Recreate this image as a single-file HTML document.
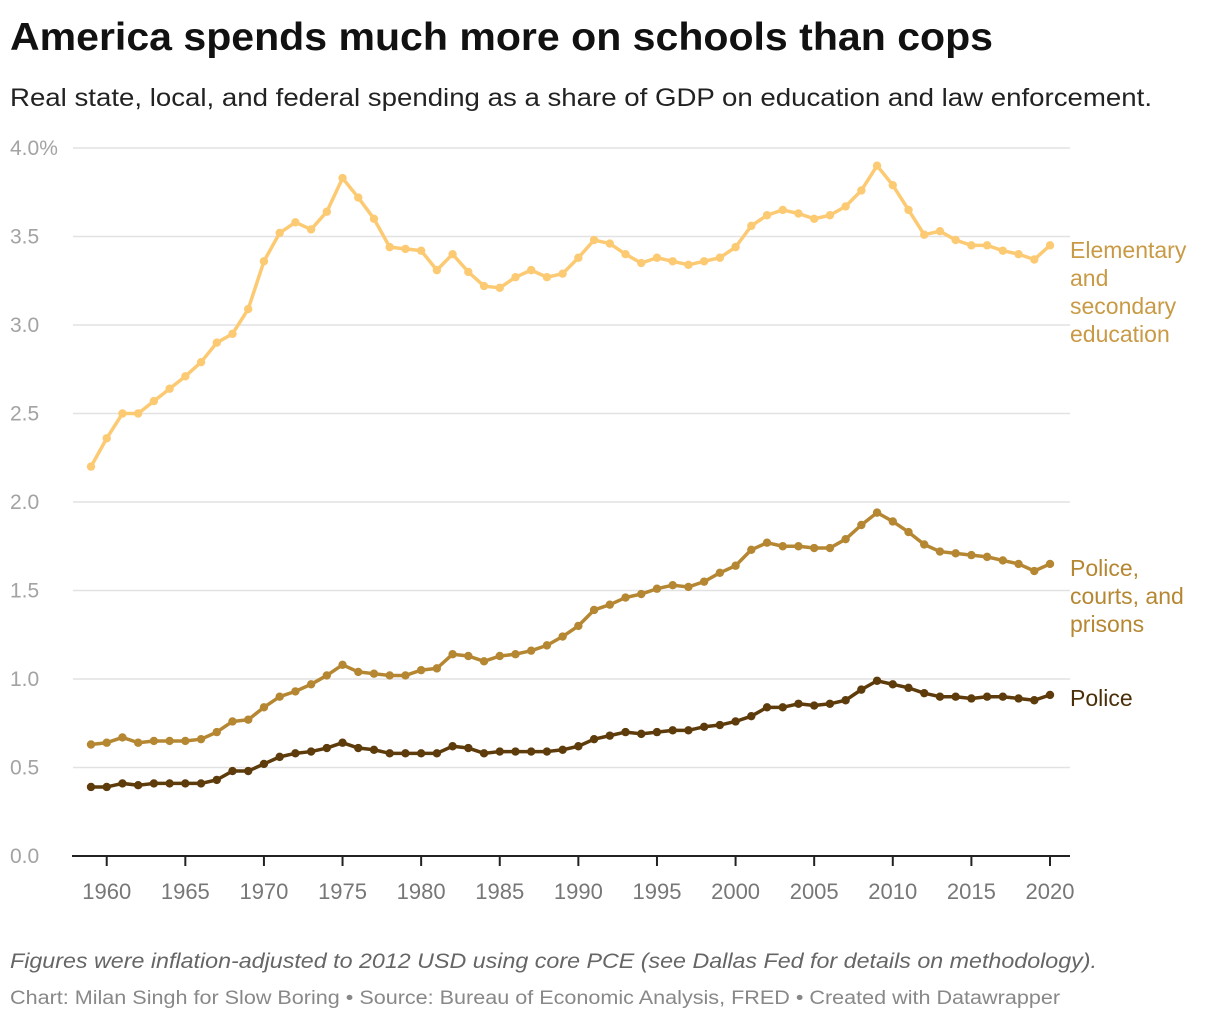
<!DOCTYPE html>
<html><head><meta charset="utf-8"><style>
body{margin:0;background:#fff;font-family:"Liberation Sans",sans-serif;}
</style></head><body>
<svg width="1220" height="1020" xmlns="http://www.w3.org/2000/svg" style="font-family:'Liberation Sans',sans-serif">
<text x="10" y="50" font-size="39" font-weight="bold" fill="#111" textLength="983" lengthAdjust="spacingAndGlyphs">America spends much more on schools than cops</text>
<text x="10" y="106" font-size="25" fill="#222" textLength="1142" lengthAdjust="spacingAndGlyphs">Real state, local, and federal spending as a share of GDP on education and law enforcement.</text>
<g id="grid"></g><g id="axes"></g><g id="lines"></g>
<text x="10" y="968" font-size="21" font-style="italic" fill="#666" textLength="1087" lengthAdjust="spacingAndGlyphs">Figures were inflation-adjusted to 2012 USD using core PCE (see Dallas Fed for details on methodology).</text>
<text x="10" y="1004" font-size="19" fill="#888" textLength="1050" lengthAdjust="spacingAndGlyphs">Chart: Milan Singh for Slow Boring • Source: Bureau of Economic Analysis, FRED • Created with Datawrapper</text>
</svg>
<script>
const years=[];for(let y=1959;y<=2020;y++)years.push(y);
const education=[2.20,2.36,2.50,2.50,2.57,2.64,2.71,2.79,2.90,2.95,3.09,3.36,3.52,3.58,3.54,3.64,3.83,3.72,3.60,3.44,3.43,3.42,3.31,3.40,3.30,3.22,3.21,3.27,3.31,3.27,3.29,3.38,3.48,3.46,3.40,3.35,3.38,3.36,3.34,3.36,3.38,3.44,3.56,3.62,3.65,3.63,3.60,3.62,3.67,3.76,3.90,3.79,3.65,3.51,3.53,3.48,3.45,3.45,3.42,3.40,3.37,3.45];
const courts=[0.63,0.64,0.67,0.64,0.65,0.65,0.65,0.66,0.70,0.76,0.77,0.84,0.90,0.93,0.97,1.02,1.08,1.04,1.03,1.02,1.02,1.05,1.06,1.14,1.13,1.10,1.13,1.14,1.16,1.19,1.24,1.30,1.39,1.42,1.46,1.48,1.51,1.53,1.52,1.55,1.60,1.64,1.73,1.77,1.75,1.75,1.74,1.74,1.79,1.87,1.94,1.89,1.83,1.76,1.72,1.71,1.70,1.69,1.67,1.65,1.61,1.65];
const police=[0.39,0.39,0.41,0.40,0.41,0.41,0.41,0.41,0.43,0.48,0.48,0.52,0.56,0.58,0.59,0.61,0.64,0.61,0.60,0.58,0.58,0.58,0.58,0.62,0.61,0.58,0.59,0.59,0.59,0.59,0.60,0.62,0.66,0.68,0.70,0.69,0.70,0.71,0.71,0.73,0.74,0.76,0.79,0.84,0.84,0.86,0.85,0.86,0.88,0.94,0.99,0.97,0.95,0.92,0.90,0.90,0.89,0.90,0.90,0.89,0.88,0.91];
const yTicks=[0,0.5,1.0,1.5,2.0,2.5,3.0,3.5,4.0];
const yTickLabels=["0.0","0.5","1.0","1.5","2.0","2.5","3.0","3.5","4.0%"];
const xTicks=[1960,1965,1970,1975,1980,1985,1990,1995,2000,2005,2010,2015,2020];
const NS="http://www.w3.org/2000/svg";
const X=y=>91+(y-1959)*(1050-91)/61;
const Y=v=>856-v*177;
function mk(t,a,p){const e=document.createElementNS(NS,t);for(const k in a)e.setAttribute(k,a[k]);p.appendChild(e);return e;}
const grid=document.getElementById('grid'),axes=document.getElementById('axes'),lines=document.getElementById('lines');
yTicks.forEach((v,i)=>{
 if(v>0){const l=mk('line',{x1:73,x2:1070,y1:Y(v),y2:Y(v),stroke:'#e2e2e2','stroke-width':1.5},grid);
 
 }
 const t=mk('text',{x:10,y:Y(v)+7,'font-size':21,fill:'#a3a3a3'},axes);t.textContent=yTickLabels[i];
 
 
});
const ax=mk('line',{x1:72,x2:1070,y1:856,y2:856,stroke:'#222','stroke-width':2},axes);


xTicks.forEach(y=>{
 const tk=mk('line',{x1:X(y),x2:X(y),y1:856,y2:866,stroke:'#222','stroke-width':2},axes);
 
 
 const t=mk('text',{x:X(y),y:899,'font-size':22,fill:'#777','text-anchor':'middle'},axes);t.textContent=y;
 
 
});
function series(vals,color,name,label,labelColor,ly){
 const g=mk('g',{},lines);
 
 
 mk('polyline',{points:vals.map((v,i)=>X(years[i])+','+Y(v)).join(' '),fill:'none',stroke:color,'stroke-width':3.5,'stroke-linejoin':'round'},g);
 vals.forEach((v,i)=>{const c=mk('circle',{cx:X(years[i]),cy:Y(v),r:4.2,fill:color},g);
  
  });
 label.forEach((s,i)=>{const t=mk('text',{x:1070,y:ly+i*28,'font-size':23,fill:labelColor},lines);t.textContent=s;
  
  });
}
series(education,'#fdca74','education-line',['Elementary','and','secondary','education'],'#c99a45',258);
series(courts,'#b68732','police-courts-prisons-line',['Police,','courts, and','prisons'],'#b68732',576);
series(police,'#5d3b0b','police-line',['Police'],'#4a2f08',706);
</script>
</body></html>
